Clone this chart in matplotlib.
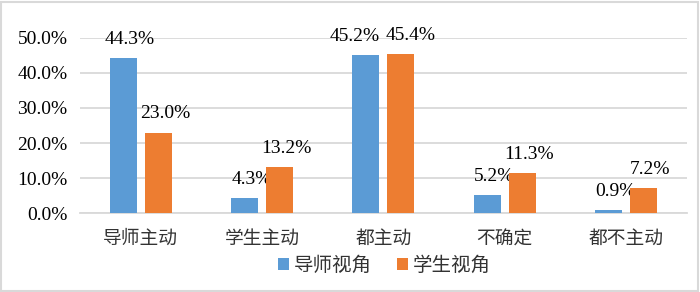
import matplotlib
matplotlib.use("Agg")
import matplotlib.pyplot as plt
import numpy as np
from matplotlib.patches import Rectangle

categories = ["导师主动", "学生主动", "都主动", "不确定", "都不主动"]
series_names = ["导师视角", "学生视角"]
teacher_view = [44.3, 4.3, 45.2, 5.2, 0.9]
student_view = [23.0, 13.2, 45.4, 11.3, 7.2]
colors = ["#5B9BD5", "#ED7D31"]

num_font = ["Liberation Serif", "Noto Sans CJK SC"]
cjk_font = ["Noto Sans CJK SC", "DejaVu Sans"]

fig = plt.figure(figsize=(7, 2.92), dpi=100)
ax = fig.add_axes([0.1143, 0.2705, 0.8667, 0.5994])

x = np.arange(len(categories))
w = 0.222
gap = 0.066
offs = (w + gap) / 2
for si, (vals, off, c, name) in enumerate(zip([teacher_view, student_view], [-offs, offs], colors, series_names)):
    bars = ax.bar(x + off, vals, width=w, color=c, label=name, zorder=3)
    for i, (b, v) in enumerate(zip(bars, vals)):
        # push apart labels of near-equal neighbours, as Excel does
        other = student_view[i] if si == 0 else teacher_view[i]
        dx = 5
        if abs(other - v) < 3:
            dx = -8 if si == 0 else 7
        ax.annotate(f"{v:.1f}%", (b.get_x() + b.get_width() / 2, v),
                    xytext=(dx, 13.5), textcoords="offset points",
                    ha="center", va="center", fontsize=14, family=num_font, color="#000000")

ax.set_xlim(-0.5, len(categories) - 0.5)
ax.set_ylim(0, 50)
ax.set_yticks(np.arange(0, 51, 10))
ax.set_yticklabels([f"{t:.1f}%" for t in np.arange(0, 51, 10)], family=num_font, fontsize=14)
ax.set_xticks(x)
ax.set_xticklabels(categories, family=cjk_font, fontsize=13.5, color="#333333")
ax.tick_params(axis="both", length=0)
ax.tick_params(axis="y", pad=9)
ax.tick_params(axis="x", pad=11)
ax.grid(axis="y", color="#d9d9d9", linewidth=1.3, zorder=0)
for s in ["top", "right", "left"]:
    ax.spines[s].set_visible(False)
ax.spines["bottom"].set_color("#d9d9d9")
ax.spines["bottom"].set_linewidth(1.3)

leg = fig.legend(loc="center", bbox_to_anchor=(0.549, 0.09), ncol=2, frameon=False,
                 prop={"family": cjk_font, "size": 14}, handlelength=0.55, handleheight=0.55,
                 handletextpad=0.25, columnspacing=1.3)
for t in leg.get_texts():
    t.set_color("#333333")

fig.patches.append(Rectangle((0.002, 0.004), 0.995, 0.99, transform=fig.transFigure,
                             fill=False, edgecolor="#d9d9d9", linewidth=1.5))

fig.savefig("out.png", dpi=100)
